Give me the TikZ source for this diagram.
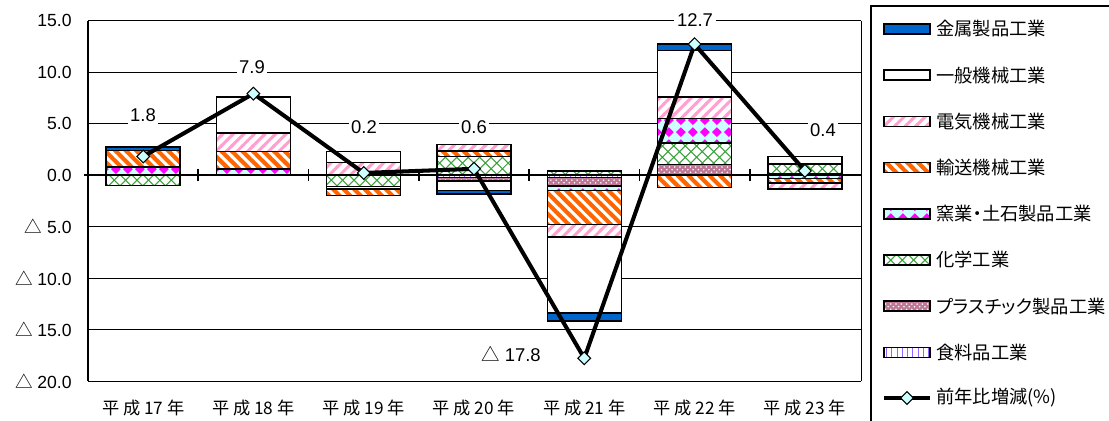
\documentclass[tikz,border=0pt]{standalone}
\usepackage{fontspec}
\setmainfont{Liberation Sans}
\newfontfamily\jp[RawFeature=+palt]{Noto Sans CJK JP}
\newfontfamily\jpx{Noto Sans CJK JP}
\usepackage{tikz}
\usetikzlibrary{patterns,shapes.geometric}

\definecolor{metalblue}{RGB}{0,102,204}
\definecolor{transorange}{RGB}{255,102,0}
\definecolor{elecpink}{RGB}{255,160,208}
\definecolor{kilncyan}{RGB}{204,255,255}
\definecolor{kilnmag}{RGB}{255,0,255}
\definecolor{chemgreen}{RGB}{60,160,60}
\definecolor{plastmauve}{RGB}{190,120,150}
\definecolor{foodpurple}{RGB}{153,102,255}
\definecolor{markcyan}{RGB}{204,255,255}

% wide stripes and the other fills of the bars
\pgfdeclarepatternformonly{wide ne}{\pgfqpoint{-1pt}{-1pt}}{\pgfqpoint{7pt}{7pt}}{\pgfqpoint{6pt}{6pt}}{%
  \pgfsetlinewidth{1.7pt}%
  \pgfpathmoveto{\pgfqpoint{-0.5pt}{-0.5pt}}\pgfpathlineto{\pgfqpoint{6.5pt}{6.5pt}}\pgfusepath{stroke}}
\pgfdeclarepatternformonly{wide nw}{\pgfqpoint{-1pt}{-1pt}}{\pgfqpoint{7pt}{7pt}}{\pgfqpoint{6pt}{6pt}}{%
  \pgfsetlinewidth{1.7pt}%
  \pgfpathmoveto{\pgfqpoint{-0.5pt}{6.5pt}}\pgfpathlineto{\pgfqpoint{6.5pt}{-0.5pt}}\pgfusepath{stroke}}
\pgfdeclarepatternformonly{chem lattice}{\pgfqpoint{-1pt}{-1pt}}{\pgfqpoint{7.5pt}{7.5pt}}{\pgfqpoint{6.5pt}{6.5pt}}{%
  \pgfsetlinewidth{0.6pt}%
  \pgfpathmoveto{\pgfqpoint{-0.2pt}{-0.2pt}}\pgfpathlineto{\pgfqpoint{6.7pt}{6.7pt}}%
  \pgfpathmoveto{\pgfqpoint{-0.2pt}{6.7pt}}\pgfpathlineto{\pgfqpoint{6.7pt}{-0.2pt}}\pgfusepath{stroke}}
\pgfdeclarepatternformonly{kiln diamonds}{\pgfqpoint{0pt}{0pt}}{\pgfqpoint{7pt}{7pt}}{\pgfqpoint{7pt}{7pt}}{%
  \pgfpathmoveto{\pgfqpoint{3.5pt}{0.6pt}}\pgfpathlineto{\pgfqpoint{6.4pt}{3.5pt}}%
  \pgfpathlineto{\pgfqpoint{3.5pt}{6.4pt}}\pgfpathlineto{\pgfqpoint{0.6pt}{3.5pt}}\pgfpathclose\pgfusepath{fill}}

\tikzset{
  seg/.style={draw=black, line width=0.9pt},
  metalbar/.style={seg, fill=metalblue},
  genbar/.style={seg, fill=white},
  elecbar/.style={seg, preaction={fill=white}, pattern=wide ne, pattern color=elecpink},
  transbar/.style={seg, preaction={fill=transorange}, pattern=wide nw, pattern color=white},
  kilnbar/.style={seg, preaction={fill=kilncyan}, pattern=kiln diamonds, pattern color=kilnmag},
  chembar/.style={seg, preaction={fill=white}, pattern=chem lattice, pattern color=chemgreen},
  plastbar/.style={seg, preaction={fill=plastmauve}, pattern=crosshatch dots, pattern color=white},
  foodbar/.style={seg, preaction={fill=white}, pattern=vertical lines, pattern color=foodpurple},
  gridline/.style={black, line width=0.5pt},
  growthline/.style={black, line width=2.3pt, line join=round},
  marker/.style={diamond, draw=black, line width=0.6pt, fill=markcyan, inner sep=0pt, minimum size=7.5pt},
  ticklab/.style={anchor=east, inner sep=0pt, font=\fontsize{10}{12}\selectfont},
  datalab/.style={fill=white, inner sep=1.5pt, font=\fontsize{10.5}{12}\selectfont},
  yearlab/.style={inner sep=0pt, font=\jpx\fontsize{9.8}{12}\selectfont},
  legtext/.style={anchor=west, inner sep=0pt, font=\jp\fontsize{10.4}{12}\selectfont},
}
\newcommand{\dtri}{{\jpx △}}

\begin{document}
\begin{tikzpicture}[x=0.02cm, y=-0.02cm]
\useasboundingbox (0,0) rectangle (1109,420);

\begin{scope}[shift={(0,175)}, y=0.206cm]
  % grid and frame
  \foreach \v in {15,10,5,-5,-10,-15,-20}
    \draw[gridline] (88,\v) -- (861,\v);
  \draw[gridline] (861,15) -- (861,-20);

  % stacked bars: centre/from/to/style
  \foreach \c/\a/\b/\s in {
      143.2/0/0.8/kilnbar, 143.2/0.8/2.4/transbar, 143.2/2.4/2.7/metalbar, 143.2/0/-1.0/chembar,
      253.4/0/0.6/kilnbar, 253.4/0.6/2.3/transbar, 253.4/2.3/4.1/elecbar, 253.4/4.1/7.6/genbar,
      363.7/0/1.2/elecbar, 363.7/1.2/2.3/genbar, 363.7/0/-1.1/chembar, 363.7/-1.1/-1.35/genbar,
      363.7/-1.35/-2.0/transbar,
      474/0/1.8/chembar, 474/1.8/2.35/transbar, 474/2.35/2.95/elecbar, 474/0/-0.25/foodbar,
      474/-0.25/-0.6/plastbar, 474/-0.6/-1.5/genbar, 474/-1.5/-1.85/metalbar,
      584.3/0/0.4/chembar, 584.3/0/-0.25/foodbar, 584.3/-0.25/-1.05/plastbar,
      584.3/-1.05/-1.5/kilnbar, 584.3/-1.5/-4.8/transbar, 584.3/-4.8/-6.0/elecbar,
      584.3/-6.0/-13.4/genbar, 584.3/-13.4/-14.2/metalbar,
      694.6/0/1.0/plastbar, 694.6/1.0/3.1/chembar, 694.6/3.1/5.5/kilnbar, 694.6/5.5/7.6/elecbar,
      694.6/7.6/12.1/genbar, 694.6/12.1/12.7/metalbar, 694.6/0/-1.2/transbar,
      804.9/0/0.12/plastbar, 804.9/0.12/1.05/chembar, 804.9/1.05/1.8/genbar,
      804.9/0/-0.35/kilnbar, 804.9/-0.35/-0.8/transbar, 804.9/-0.8/-1.35/elecbar}
    \draw[\s] (\c-37,\a) rectangle (\c+37,\b);

  % axes
  \draw[black, line width=1.1pt] (88,15) -- (88,-20);
  \draw[black, line width=1.1pt] (84,0) -- (861,0);
  \foreach \i in {1,...,6}
    \draw[black, line width=1pt] (88+110.3*\i,0.6) -- (88+110.3*\i,-0.6);

  % value axis labels
  \foreach \v/\t in {15/15.0, 10/10.0, 5/5.0, 0/0.0, -5/\dtri\ 5.0, -10/\dtri\ 10.0,
      -15/\dtri\ 15.0, -20/\dtri\ 20.0}
    \node[ticklab] (tick\v) at (72,\v) {\t};

  % year on year change
  \foreach \c/\v [count=\i] in {143.2/1.8, 253.4/7.9, 363.7/0.2, 474/0.6, 584.3/-17.8,
      694.6/12.7, 804.9/0.4}
    \coordinate (p\i) at (\c,\v);
  \draw[growthline] (p1) -- (p2) -- (p3) -- (p4) -- (p5) -- (p6) -- (p7);
  \foreach \i in {1,...,7}
    \node[marker] (m\i) at (p\i) {};
\end{scope}

% data labels
\node[datalab] (lab1) at (143,115) {1.8};
\node[datalab] (lab2) at (252,67) {7.9};
\node[datalab] (lab3) at (364,127) {0.2};
\node[datalab] (lab4) at (474,127) {0.6};
\node[datalab] (lab5) at (511,354) {\dtri\ 17.8};
\node[datalab] (lab6) at (695,20) {12.7};
\node[datalab] (lab7) at (823,130) {0.4};

% category labels
\foreach \c/\n [count=\i] in {143.2/17, 253.4/18, 363.7/19, 474/20, 584.3/21, 694.6/22, 804.9/23}
  \node[yearlab] (year\i) at (\c,408) {平 成 \n\ 年};

% legend
\draw[black, line width=0.6pt] (871,6) rectangle (1120,430);
\foreach \s/\t [count=\i, evaluate=\i as \ly using 29+46.2*(\i-1)] in {
    metalbar/金属製品工業, genbar/一般機械工業, elecbar/電気機械工業, transbar/輸送機械工業,
    kilnbar/窯業・土石製品工業, chembar/化学工業, plastbar/プラスチック製品工業, foodbar/食料品工業} {
  \draw[\s] (884,\ly-5) rectangle (930,\ly+5);
  \node[legtext] (leg\i) at (936,\ly) {\t};
}
\coordinate (la) at (884,398);
\coordinate (lb) at (930,398);
\draw[growthline] (la) -- (lb);
\node[marker] (legm) at (907,398) {};
\node[legtext] (leg9) at (936,398) {前年比増減(\%)};
\end{tikzpicture}
\end{document}
